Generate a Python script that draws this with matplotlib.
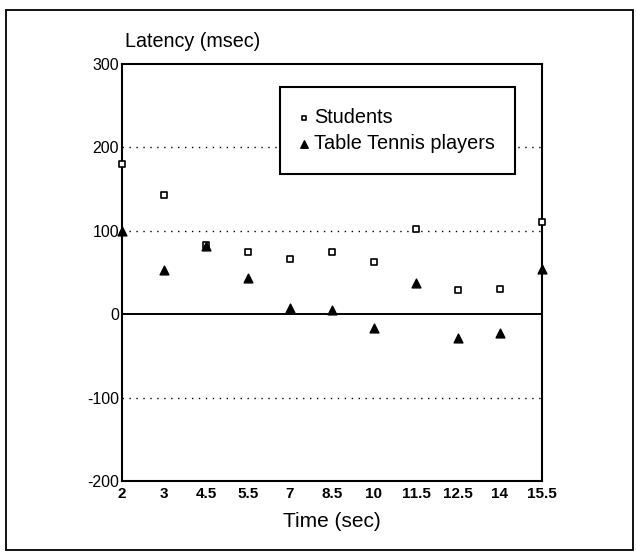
import matplotlib
matplotlib.use('Agg')
import matplotlib.pyplot as plt
from matplotlib.patches import Rectangle
import numpy as np

plt.rcParams['font.family'] = ['Liberation Sans', 'DejaVu Sans']

times = ['2', '3', '4.5', '5.5', '7', '8.5', '10', '11.5', '12.5', '14', '15.5']
students = [180, 143, 83, 75, 66, 74, 62, 102, 29, 30, 110]
tt_players = [100, 53, 82, 44, 8, 5, -17, 37, -28, -23, 54]
y_ticks = [-200, -100, 0, 100, 200, 300]

fig = plt.figure(figsize=(6.36, 5.55), dpi=100)
ax = fig.add_axes([0.1918, 0.1333, 0.6604, 0.7514])

x = np.arange(len(times))

# reference lines
for yv in (200, 100, -100):
    ax.axhline(yv, color='black', linestyle=(0, (1, 4)), linewidth=1.0, zorder=1)
ax.axhline(0, color='black', linewidth=1.4, zorder=1)

ax.scatter(x, students, marker='s', s=16, facecolors='white', edgecolors='black',
           linewidths=1.2, label='Students', zorder=3, clip_on=False)
ax.scatter(x, tt_players, marker='^', s=40, color='black',
           label='Table Tennis players', zorder=3, clip_on=False)

ax.set_xlim(0, len(times) - 1)
ax.set_ylim(-200, 300)
ax.set_xticks(x)
ax.set_xticklabels(times, fontsize=11, fontweight='bold')
ax.set_yticks(y_ticks)
ax.set_yticklabels([str(v) for v in y_ticks], fontsize=11.5)
ax.tick_params(length=0, pad=4)
ax.tick_params(axis='y', pad=2)
for s in ax.spines.values():
    s.set_linewidth(1.5)

ax.set_xlabel('Time (sec)', fontsize=15, labelpad=8)
fig.text(0.196, 0.909, 'Latency (msec)', fontsize=14.2, ha='left', va='bottom')

leg = ax.legend(loc='upper left', bbox_to_anchor=(0.376, 0.945), fontsize=14.3,
                frameon=True, fancybox=False, edgecolor='black', framealpha=1,
                borderpad=1.05, handletextpad=0.35, labelspacing=0.38,
                handlelength=0.3, markerscale=0.85, borderaxespad=0)
leg.get_frame().set_linewidth(1.5)

# outer frame around the whole figure
fig.patches.append(Rectangle((6 / 636, 5 / 555), 627 / 636, 540 / 555,
                             transform=fig.transFigure, fill=False,
                             edgecolor='black', linewidth=1.3))

fig.savefig('out.png', dpi=100)
